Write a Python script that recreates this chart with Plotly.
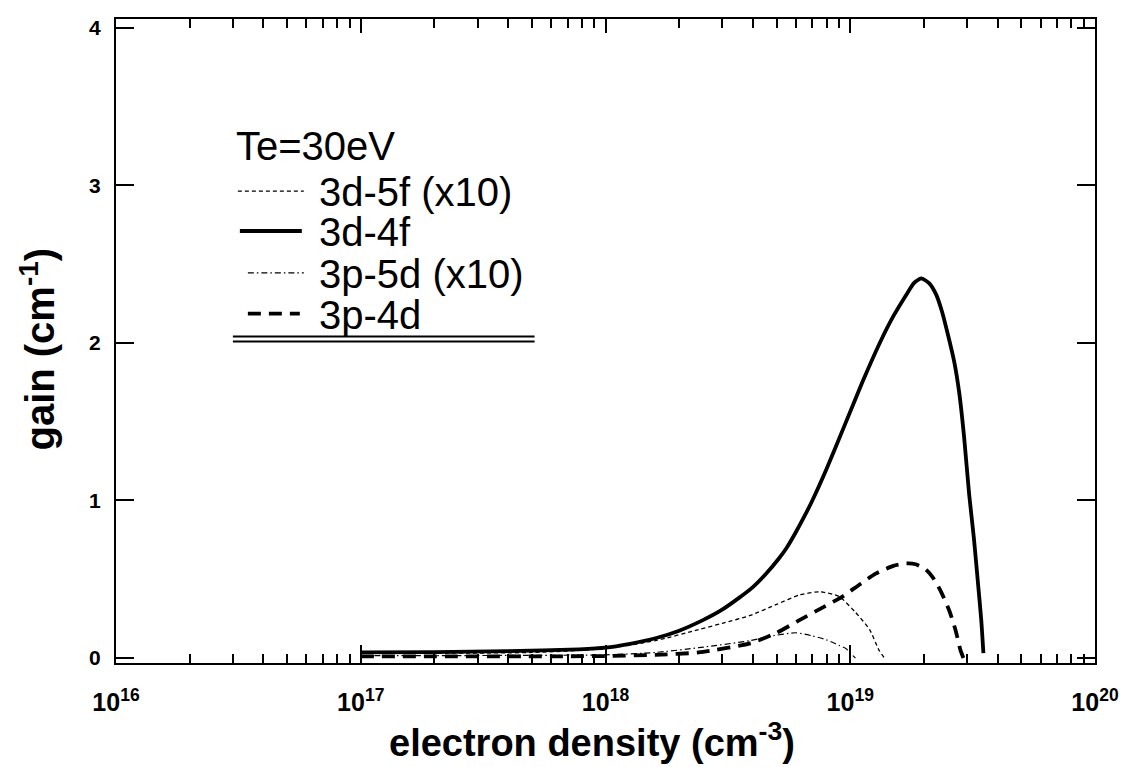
import plotly.graph_objects as go

# ---------------- data ----------------
density_3d4f = [1.0e17, 2.0e17, 4.0e17, 7.8e17, 1.0e18, 1.26e18, 1.6e18, 2.0e18, 2.5e18,
                2.95e18, 3.5e18, 4.0e18, 4.5e18, 5.1e18, 5.5e18, 6.0e18, 6.5e18, 7.0e18,
                8.0e18, 9.5e18, 1.12e19, 1.32e19, 1.5e19, 1.7e19, 1.82e19, 1.95e19,
                2.1e19, 2.24e19, 2.37e19, 2.5e19, 2.66e19, 2.79e19, 2.92e19, 3.06e19,
                3.2e19, 3.31e19, 3.43e19, 3.5e19]
gain_3d4f = [0.035, 0.037, 0.043, 0.055, 0.065, 0.09, 0.125, 0.173, 0.24,
             0.30, 0.38, 0.45, 0.53, 0.63, 0.70, 0.80, 0.90, 1.0,
             1.2, 1.48, 1.75, 2.00, 2.17, 2.31, 2.38, 2.41,
             2.38, 2.31, 2.20, 2.06, 1.88, 1.68, 1.40, 1.04,
             0.76, 0.51, 0.24, 0.03]

density_3d5f = [1.0e17, 5.0e17, 1.0e18, 1.6e18, 2.4e18, 3.0e18, 3.9e18, 5.0e18, 6.2e18,
                7.5e18, 9.0e18, 1.05e19, 1.2e19, 1.31e19, 1.38e19]
gain_3d5f = [0.03, 0.035, 0.06, 0.11, 0.18, 0.22, 0.27, 0.34, 0.40,
             0.42, 0.39, 0.29, 0.18, 0.05, 0.0]

density_3p5d = [1.0e17, 1.0e18, 1.6e18, 2.4e18, 3.9e18, 4.6e18, 6.0e18, 7.0e18, 8.0e18,
                9.0e18, 9.6e18, 1.0e19, 1.05e19]
gain_3p5d = [0.015, 0.02, 0.035, 0.065, 0.11, 0.135, 0.16, 0.14, 0.115,
             0.08, 0.06, 0.03, 0.0]

density_3p4d = [1.0e17, 1.0e18, 1.6e18, 2.4e18, 3.9e18, 5.0e18, 6.2e18, 7.7e18, 9.3e18,
                1.1e19, 1.27e19, 1.5e19, 1.7e19, 1.85e19, 2.04e19, 2.2e19, 2.35e19,
                2.54e19, 2.7e19, 2.82e19, 2.9e19]
gain_3p4d = [0.01, 0.012, 0.02, 0.035, 0.093, 0.16, 0.24, 0.32, 0.39,
             0.47, 0.535, 0.585, 0.60, 0.595, 0.56, 0.50, 0.42,
             0.30, 0.17, 0.05, 0.0]

series_names = ["3d-5f (x10)", "3d-4f", "3p-5d (x10)", "3p-4d"]
legend_title = "Te=30eV"
x_title = "<b>electron density (cm<sup>-3</sup>)</b>"
y_title = "<b>gain (cm<sup>-1</sup>)</b>"

x_major_ticks = [1e16, 1e17, 1e18, 1e19, 1e20]
x_major_labels = ["<b>10<sup>16</sup></b>", "<b>10<sup>17</sup></b>", "<b>10<sup>18</sup></b>",
                  "<b>10<sup>19</sup></b>", "<b>10<sup>20</sup></b>"]
x_minor_ticks = [float(m) * 10.0 ** e for e in range(16, 20) for m in range(2, 10)]
y_ticks = [0, 1, 2, 3, 4]
y_labels = ["<b>0</b>", "<b>1</b>", "<b>2</b>", "<b>3</b>", "<b>4</b>"]

# ---------------- layout geometry (page pixels; page body has an 8px margin) ----------------
OFF = 8
W, H = 1119, 759
L, R, T, B = 116, 1096, 16, 663   # plot area in page pixels
FONT = "Liberation Sans, Arial, Helvetica, sans-serif"

styles = [
    dict(width=1.3, dash="4px,3px"),
    dict(width=3.8, dash="solid"),
    dict(width=1.2, dash="6px,3px,1.5px,3px"),
    dict(width=3.8, dash="13px,8px"),
]

fig = go.Figure()
series = [(density_3d5f, gain_3d5f), (density_3d4f, gain_3d4f),
          (density_3p5d, gain_3p5d), (density_3p4d, gain_3p4d)]
for (xs, ys), name, st in zip(series, series_names, styles):
    fig.add_trace(go.Scatter(x=xs, y=ys, mode="lines", name=name, showlegend=False,
                             line=dict(color="black", width=st["width"], dash=st["dash"],
                                       shape="spline", smoothing=0.6)))

# invisible trace so the mirrored top axis (with minor ticks) is drawn
fig.add_trace(go.Scatter(x=density_3d4f, y=gain_3d4f, xaxis="x2", mode="lines",
                         line=dict(width=0), opacity=0, showlegend=False, hoverinfo="skip"))

def px(xp):
    return (xp - L) / (R - L)

def py(yp):
    return (B - yp) / (B - T)

# ---------------- manual legend ----------------
shapes = []
annotations = []
annotations.append(dict(x=px(234), y=py(144), xref="paper", yref="paper", text=legend_title,
                        showarrow=False, xanchor="left", yanchor="middle",
                        font=dict(family=FONT, size=40, color="black")))
rows_y = [189, 229, 271, 312]
samples = [(238, 304), (240, 302), (248, 304), (248, 300)]
for name, st, yy, (x0, x1) in zip(series_names, styles, rows_y, samples):
    shapes.append(dict(type="line", xref="paper", yref="paper", x0=px(x0), x1=px(x1),
                       y0=py(yy), y1=py(yy),
                       line=dict(color="black", width=st["width"], dash=st["dash"])))
    annotations.append(dict(x=px(317), y=py(yy + 1), xref="paper", yref="paper", text=name,
                            showarrow=False, xanchor="left", yanchor="middle",
                            font=dict(family=FONT, size=40, color="black")))
for yy in (335, 340):
    shapes.append(dict(type="line", xref="paper", yref="paper", x0=px(233), x1=px(535),
                       y0=py(yy), y1=py(yy), line=dict(color="black", width=1.8)))

# axis titles
annotations.append(dict(x=px(592), y=py(740), xref="paper", yref="paper",
                        text=x_title, showarrow=False,
                        xanchor="center", yanchor="middle",
                        font=dict(family=FONT, size=38, color="black")))
annotations.append(dict(x=px(38), y=py(348), xref="paper", yref="paper",
                        text=y_title, showarrow=False, textangle=-90,
                        xanchor="center", yanchor="middle",
                        font=dict(family=FONT, size=40, color="black")))

fig.update_layout(
    width=W, height=H, autosize=False,
    margin=dict(l=L - OFF, r=W - (R - OFF), t=T - OFF, b=H - (B - OFF), pad=0),
    paper_bgcolor="white", plot_bgcolor="white",
    shapes=shapes, annotations=annotations,
    font=dict(family=FONT, color="black"),
)

axis_common = dict(showgrid=False, zeroline=False, showline=True, linecolor="black",
                   linewidth=2, ticks="inside", tickwidth=1.8, tickcolor="black")

fig.update_layout(
    xaxis=dict(
        type="log", range=[16, 20], mirror=True, ticklen=18,
        tickmode="array", tickvals=x_major_ticks, ticktext=x_major_labels,
        tickfont=dict(family=FONT, size=25, color="black"), ticklabelstandoff=16,
        ticklabeloverflow="allow",
        minor=dict(tickmode="array", tickvals=x_minor_ticks, ticks="inside", ticklen=9,
                   tickwidth=1.5, tickcolor="black", showgrid=False),
        **axis_common,
    ),
    xaxis2=dict(
        type="log", range=[16, 20], overlaying="x", side="top", ticklen=14,
        tickmode="array", tickvals=x_major_ticks, showticklabels=False,
        minor=dict(tickmode="array", tickvals=x_minor_ticks, ticks="inside", ticklen=9,
                   tickwidth=1.5, tickcolor="black", showgrid=False),
        **axis_common,
    ),
    yaxis=dict(
        range=[-0.032, 4.057], mirror="ticks", ticklen=18,
        tickmode="array", tickvals=y_ticks, ticktext=y_labels,
        tickfont=dict(family=FONT, size=21, color="black"), ticklabelstandoff=9,
        **axis_common,
    ),
)

fig.write_html("out.html")
